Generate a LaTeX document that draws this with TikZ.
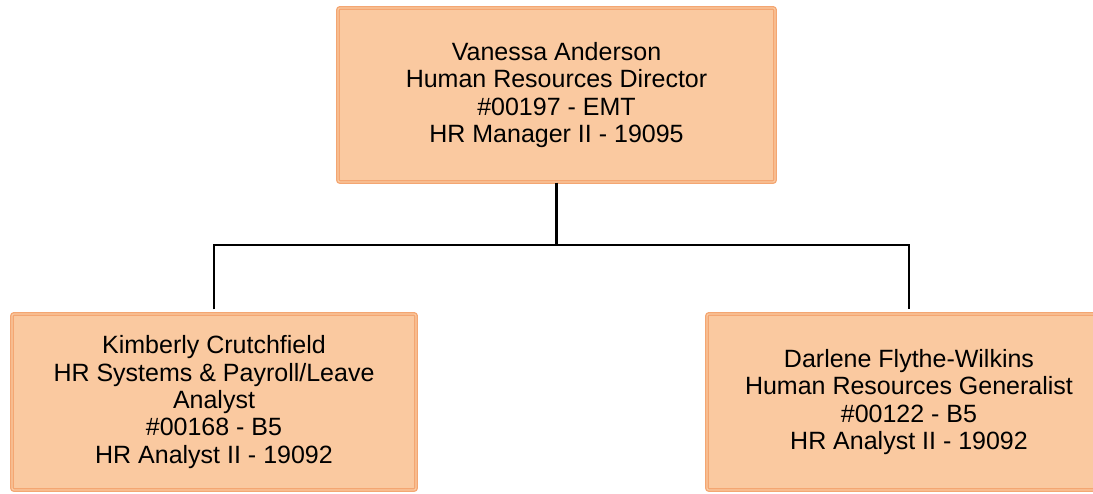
\documentclass[tikz,border=0pt]{standalone}
\usepackage{fontspec}
\setmainfont{Liberation Sans}
\definecolor{boxfill}{HTML}{FAC9A0}
\definecolor{boxline}{HTML}{F4A672}

\begin{document}
\begin{tikzpicture}[x=1pt,y=1pt,
        person/.style = {rectangle, rounded corners=2pt, draw=boxline, line width=1.3pt,
            double=boxfill, double distance=1.2pt, fill=boxfill, inner sep=0pt,
            align=center, font=\fontsize{25}{27.4}\selectfont},
        link/.style = {draw=black, line width=2.2pt}]
        \useasboundingbox (0,0) rectangle (1093,494);
        \node[person,minimum width=437,minimum height=174] (boss) at (556.5,399)
            {Vanessa Anderson\\Human Resources Director\\\#00197 - EMT\\HR Manager II - 19095};
        \node[person,minimum width=404,minimum height=176] (kim) at (214,92)
            {Kimberly Crutchfield\\HR Systems \& Payroll/Leave\\Analyst\\\#00168 - B5\\HR Analyst II - 19092};
        \node[person,minimum width=404,minimum height=176] (darl) at (909,92)
            {Darlene Flythe-Wilkins\\Human Resources Generalist\\\#00122 - B5\\HR Analyst II - 19092};
        \coordinate (bus) at (556.5,249);
        \draw[link] (boss.south) -- (bus);
        \draw[link] ([yshift=4pt]kim.north) -- (kim.north |- bus) -- (darl.north |- bus) -- ([yshift=4pt]darl.north);
    \end{tikzpicture}
\end{document}
